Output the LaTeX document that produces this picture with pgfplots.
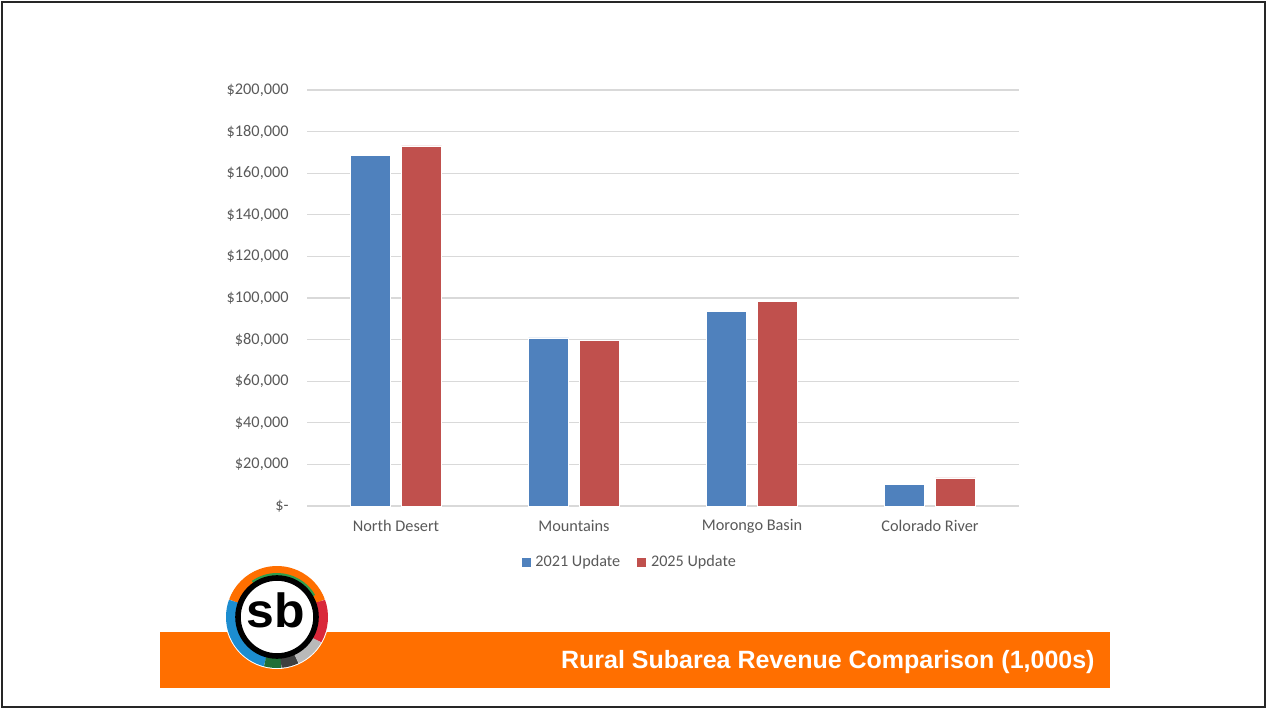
\documentclass[border=0pt]{standalone}
\usepackage{pgfplots}
\pgfplotsset{compat=1.18}
\usepackage{fontspec}
\setmainfont{Carlito}
\newfontfamily\arialfont{Liberation Sans}
\definecolor{blu}{HTML}{4F81BD}
\definecolor{rd}{HTML}{C0504D}
\definecolor{gridc}{HTML}{D9D9D9}
\definecolor{txt}{HTML}{595959}
\definecolor{sborange}{HTML}{FF6F00}
\definecolor{sbgreen}{HTML}{2E9E4F}
\definecolor{sbblue}{HTML}{1C8DD0}
\definecolor{sbred}{HTML}{D9283A}

\begin{document}
\begin{tikzpicture}
\path[use as bounding box] (0,0) rectangle (633.5pt,-355pt);

\begin{axis}[
    at={(153.5pt,-253pt)}, anchor=south west,
    scale only axis, width=356pt, height=208pt,
    ybar=5.5pt, bar width=20pt,
    xmin=-0.5, xmax=3.5, ymin=0, ymax=200000,
    xtick={0,1,2,3},
    xticklabels={North Desert, Mountains, Morongo Basin, Colorado River},
    ytick={0,20000,...,200000}, scaled y ticks=false,
    yticklabels={\$-\hspace{4pt},{\$20,000},{\$40,000},{\$60,000},{\$80,000},{\$100,000},{\$120,000},{\$140,000},{\$160,000},{\$180,000},{\$200,000}},
    ymajorgrids, grid style={gridc, line width=0.6pt},
    axis x line*=bottom, axis y line*=left,
    y axis line style={draw=none},
    x axis line style={gridc, line width=0.9pt},
    major tick length=0pt,
    tick label style={text=txt, font=\fontsize{8.15}{10}\selectfont},
    xticklabel style={anchor=center, yshift=-10pt},
    yticklabel style={anchor=east, inner sep=0pt, xshift=-9pt},
    legend style={at={(0.454,-0.1346)}, anchor=center, draw=none, fill=none,
        legend columns=2, text=txt, font=\fontsize{8.1}{10}\selectfont,
        nodes={inner xsep=2pt, inner ysep=1pt},
        /tikz/every even column/.append style={column sep=6pt}},
    legend image code/.code={\fill[#1] (0pt,-2.5pt) rectangle (5pt,2.5pt);},
]
\addplot[fill=blu, draw=white, line width=0.4pt] coordinates {(0,168700) (1,80800) (2,93400) (3,10400)};
\addplot[fill=rd, draw=white, line width=0.4pt] coordinates {(0,173100) (1,79700) (2,98400) (3,13500)};
\legend{2021 Update, 2025 Update}
\end{axis}

\begin{scope}[x=0.5pt,y=-0.5pt]
\draw[black!85, line width=1pt] (2,2) rectangle (1265,707);
\fill[sborange] (160,632) rectangle (1110,688);
\node[anchor=east, text=white, inner sep=0pt,
      font=\arialfont\bfseries\fontsize{12.5}{15}\selectfont] at (1095,662)
      {Rural Subarea Revenue Comparison (1,000s)};
\end{scope}

% logo
\begin{scope}[shift={(138.5pt,-308.5pt)}]
\fill[white] (0,0) circle (26pt);
\draw[sborange, line width=5pt] (20:23pt) arc[start angle=20, end angle=160, radius=23pt];
\draw[sbblue, line width=5pt] (160:23pt) arc[start angle=160, end angle=255, radius=23pt];
\draw[sbgreen!70!black, line width=5pt] (255:23pt) arc[start angle=255, end angle=275, radius=23pt];
\draw[black!75, line width=5pt] (275:23pt) arc[start angle=275, end angle=295, radius=23pt];
\draw[gray!55, line width=5pt] (295:23pt) arc[start angle=295, end angle=330, radius=23pt];
\draw[sbred, line width=5pt] (330:23pt) arc[start angle=330, end angle=380, radius=23pt];
\draw[sbgreen, line width=2pt] (30:21pt) arc[start angle=30, end angle=125, radius=21pt];
\draw[black, fill=white, line width=2.8pt] (0,0) circle (19.5pt);
\node[inner sep=0pt, xscale=1.04, font=\arialfont\bfseries\fontsize{24}{24}\selectfont] at (-0.5pt,3.5pt) {sb};
\end{scope}
\end{tikzpicture}
\end{document}
